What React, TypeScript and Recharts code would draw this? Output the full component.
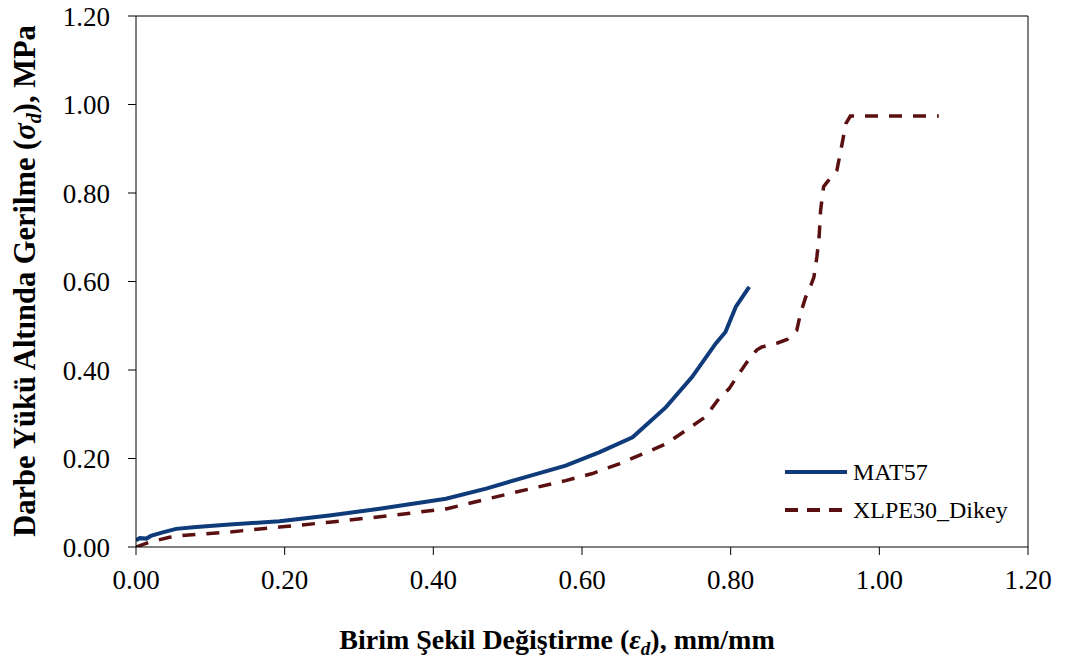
import React from "react"
import { Label, Legend, Line, LineChart, ReferenceLine, XAxis, YAxis } from "recharts"

const xTicks = [0, 0.2, 0.4, 0.6, 0.8, 1.0, 1.2]
const yTicks = [0, 0.2, 0.4, 0.6, 0.8, 1.0, 1.2]

const mat57Strain = [
  0, 0.005, 0.014, 0.02, 0.036, 0.054, 0.081, 0.126, 0.193, 0.26, 0.33, 0.417, 0.471, 0.524, 0.578,
  0.623, 0.668, 0.713, 0.748, 0.78, 0.793, 0.807, 0.825,
]
const mat57Stress = [
  0.015, 0.02, 0.019, 0.025, 0.033, 0.041, 0.045, 0.051, 0.058, 0.071, 0.087, 0.109, 0.132, 0.158, 0.184,
  0.214, 0.248, 0.316, 0.384, 0.46, 0.486, 0.543, 0.588,
]

const xlpeStrain = [
  0, 0.018, 0.045, 0.0625, 0.126, 0.193, 0.26, 0.331, 0.417, 0.506, 0.578, 0.614, 0.65, 0.677, 0.713,
  0.74, 0.766, 0.784, 0.798, 0.808, 0.822, 0.835, 0.842, 0.863, 0.876, 0.889, 0.894, 0.901, 0.908,
  0.912, 0.916, 0.919, 0.921, 0.925, 0.93, 0.943, 0.95, 0.955, 0.961, 1.08,
]
const xlpeStress = [
  0, 0.011, 0.022, 0.026, 0.034, 0.045, 0.056, 0.069, 0.086, 0.122, 0.15, 0.166, 0.188, 0.207, 0.233,
  0.264, 0.294, 0.335, 0.358, 0.384, 0.418, 0.445, 0.452, 0.461, 0.469, 0.49, 0.528, 0.565, 0.592,
  0.61, 0.656, 0.701, 0.761, 0.814, 0.825, 0.852, 0.912, 0.957, 0.974, 0.974,
]

const mat57 = mat57Strain.map((x, i) => ({ x, y: mat57Stress[i] }))
const xlpe = xlpeStrain.map((x, i) => ({ x, y: xlpeStress[i] }))

const FONT = "'Liberation Serif', 'Times New Roman', serif"
const BLUE = "#0f3b7a"
const RED = "#5a0f10"

const fmt = (v: number) => v.toFixed(2)

function YTitle() {
  return (
    <text
      x={35}
      y={281}
      transform="rotate(-90, 35, 281)"
      textAnchor="middle"
      fontFamily={FONT}
      fontWeight="bold"
      fontSize={30.5}
      fill="#000"
    >
      Darbe Yükü Altında Gerilme (<tspan fontStyle="italic">σ</tspan>
      <tspan fontStyle="italic" fontSize={20} dy={6}>d</tspan>
      <tspan dy={-6}>), MPa</tspan>
    </text>
  )
}

function XTitle() {
  return (
    <text x={557} y={649} textAnchor="middle" fontFamily={FONT} fontWeight="bold" fontSize={28} fill="#000">
      Birim Şekil Değiştirme (<tspan fontStyle="italic">ε</tspan>
      <tspan fontStyle="italic" fontSize={19} dy={6}>d</tspan>
      <tspan dy={-6}>), mm/mm</tspan>
    </text>
  )
}

function LegendBox() {
  const rows = [
    { name: "MAT57", color: BLUE, dash: undefined as string | undefined },
    { name: "XLPE30_Dikey", color: RED, dash: "13 9" },
  ]
  return (
    <div style={{ fontFamily: FONT, fontSize: 24, lineHeight: "38px" }}>
      {rows.map((r) => (
        <div key={r.name} style={{ display: "flex", alignItems: "center", height: 38 }}>
          <svg width={66} height={10} style={{ marginRight: 4 }}>
            <line x1={2} y1={5} x2={64} y2={5} stroke={r.color} strokeWidth={4} strokeDasharray={r.dash} />
          </svg>
          <span>{r.name}</span>
        </div>
      ))}
    </div>
  )
}

export default function App() {
  return (
    <div style={{ position: "absolute", left: 0, top: 0, background: "#fff" }}>
      <LineChart width={1066} height={664} margin={{ top: 16, right: 38, bottom: 0, left: 0 }}>
        <XAxis
          xAxisId="main"
          type="number"
          dataKey="x"
          domain={[0, 1.2]}
          ticks={xTicks}
          tickFormatter={fmt}
          height={117}
          stroke="#000"
          tickSize={8}
          tickMargin={15}
          tick={{ fill: "#000", fontSize: 27, fontFamily: FONT }}
          allowDataOverflow
        >
          <Label content={() => <XTitle />} />
        </XAxis>
        <YAxis
          yAxisId="main"
          type="number"
          domain={[0, 1.2]}
          ticks={yTicks}
          tickFormatter={fmt}
          width={136}
          stroke="#000"
          tickSize={8}
          tickMargin={18}
          tick={{ fill: "#000", fontSize: 27, fontFamily: FONT }}
          allowDataOverflow
        >
          <Label content={() => <YTitle />} />
        </YAxis>
        <ReferenceLine xAxisId="main" yAxisId="main" y={1.2} stroke="#000" strokeWidth={1} ifOverflow="extendDomain" />
        <ReferenceLine xAxisId="main" yAxisId="main" x={1.2} stroke="#000" strokeWidth={1} ifOverflow="extendDomain" />
        <Legend
          layout="vertical"
          align="center"
          verticalAlign="middle"
          content={() => <LegendBox />}
          wrapperStyle={{ position: "absolute", left: 783, top: 453, width: 260 }}
        />
        <Line
          xAxisId="main"
          yAxisId="main"
          data={mat57}
          dataKey="y"
          type="linear"
          stroke={BLUE}
          strokeWidth={4}
          dot={false}
          activeDot={false}
          isAnimationActive={false}
          name="MAT57"
        />
        <Line
          xAxisId="main"
          yAxisId="main"
          data={xlpe}
          dataKey="y"
          type="linear"
          stroke={RED}
          strokeWidth={3.5}
          strokeDasharray="13 11"
          dot={false}
          activeDot={false}
          isAnimationActive={false}
          name="XLPE30_Dikey"
        />
      </LineChart>
    </div>
  )
}
